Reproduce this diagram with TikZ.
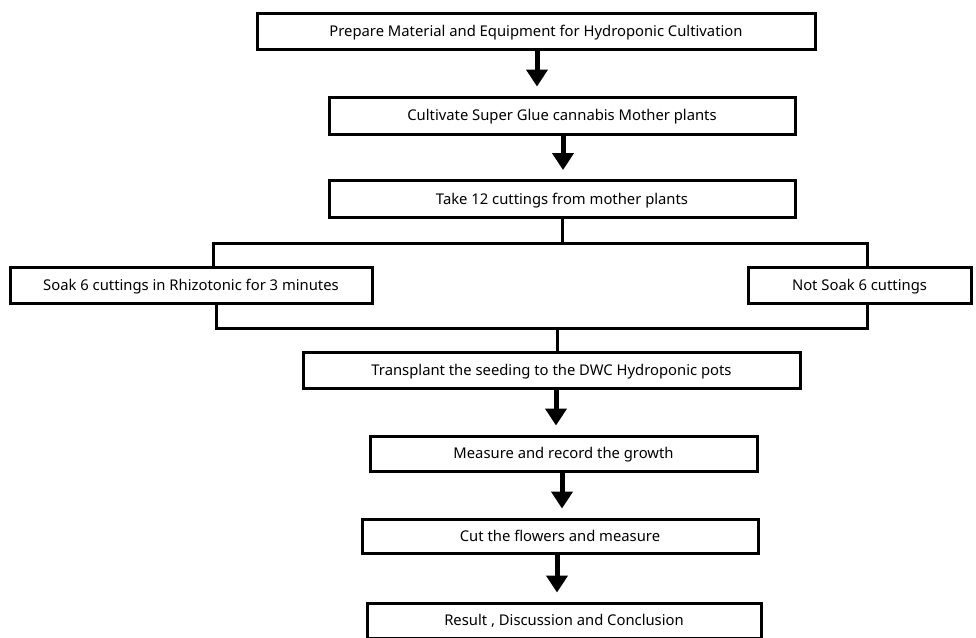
\documentclass[tikz,border=0pt]{standalone}
\usepackage{fontspec}
\setmainfont{Noto Sans}
\usepackage{xcolor}
\usepackage{tikz}
\usetikzlibrary{arrows.meta}

\begin{document}
\begin{tikzpicture}[x=1pt,y=-1pt,
  stepbox/.style={draw,line width=3pt,inner sep=0pt,minimum height=36pt,
    text height=10pt,text depth=0pt,font=\fontsize{14.8}{17}\selectfont},
  bigarrow/.style={line width=5pt,-{Triangle[width=21pt,length=17pt]},shorten >=9pt},
  link/.style={line width=3pt}]
\useasboundingbox (0,0) rectangle (976,637);
\node[stepbox,minimum width=558pt] (prepare) at (536,31) {Prepare Material and Equipment for Hydroponic Cultivation};
\node[stepbox,minimum width=466pt,minimum height=37pt] (mother) at (562,115.5) {Cultivate Super Glue cannabis Mother plants};
\node[stepbox,minimum width=466pt,minimum height=37pt] (take) at (562,199) {Take 12 cuttings from mother plants};
\node[stepbox,minimum width=362pt] (soak) at (191,285) {Soak 6 cuttings in Rhizotonic for 3 minutes};
\node[stepbox,minimum width=223pt] (nosoak) at (859.5,285) {Not Soak 6 cuttings};
\node[stepbox,minimum width=497pt] (transplant) at (551.5,370) {Transplant the seeding to the DWC Hydroponic pots};
\node[stepbox,minimum width=387pt,minimum height=35pt] (growth) at (563.5,453.5) {Measure and record the growth};
\node[stepbox,minimum width=396pt,minimum height=34pt] (flowers) at (560,536) {Cut the flowers and measure};
\node[stepbox,minimum width=394pt,minimum height=35pt] (result) at (564,620.5) {Result , Discussion and Conclusion};
\coordinate (split) at (562,243);
\coordinate (merge) at (557,328);
\draw[bigarrow] ([xshift=1pt]prepare.south) -- ([xshift=1pt]prepare.south |- mother.north);
\draw[bigarrow] ([xshift=1pt]mother.south) -- ([xshift=1pt]mother.south |- take.north);
\draw[link] (take.south) -- (split);
\draw[link] ([xshift=22pt]soak.north) |- (split) -| ([xshift=7.5pt]nosoak.north);
\draw[link] ([xshift=25pt]soak.south) |- (merge) -| ([xshift=7.5pt]nosoak.south);
\draw[link] (merge) -- (merge |- transplant.north);
\draw[bigarrow] ([xshift=4.5pt]transplant.south) -- ([xshift=4.5pt]transplant.south |- growth.north);
\draw[bigarrow] ([xshift=-1.5pt]growth.south) -- ([xshift=-1.5pt]growth.south |- flowers.north);
\draw[bigarrow] ([xshift=-3pt]flowers.south) -- ([xshift=-3pt]flowers.south |- result.north);
\end{tikzpicture}
\end{document}
